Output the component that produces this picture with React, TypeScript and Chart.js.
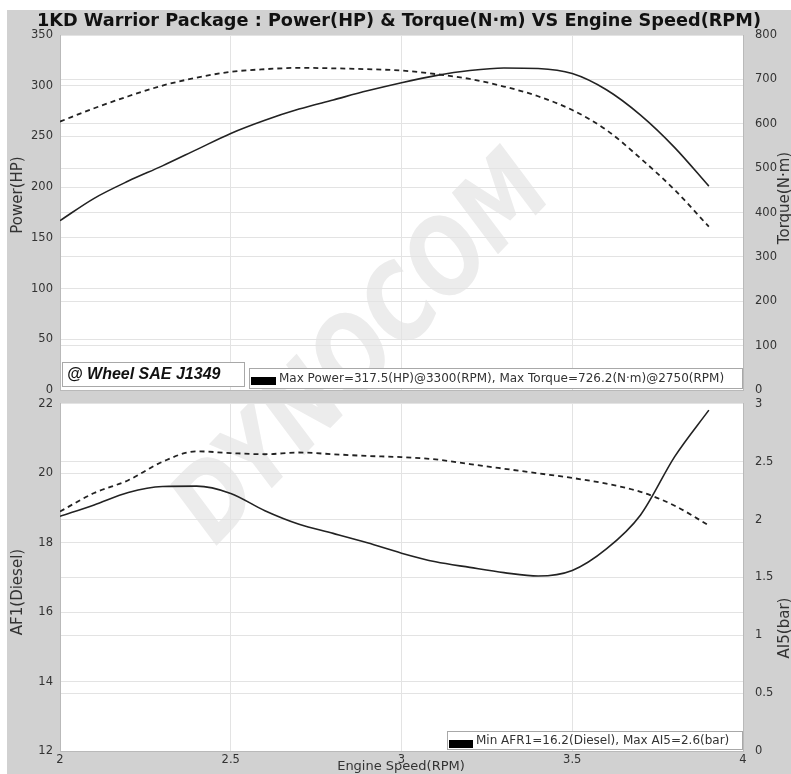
import React, { useEffect, useRef } from "react";
import { Chart, registerables } from "chart.js";

Chart.register(...registerables);

// ---------- data ----------
const RPM_K = [2.0, 2.1, 2.2, 2.3, 2.4, 2.5, 2.6, 2.7, 2.8, 2.9, 3.0, 3.1, 3.2, 3.3, 3.4, 3.5, 3.6, 3.7, 3.8, 3.9];
const POWER_HP = [167, 189, 206, 221, 237, 253, 266, 277, 286, 295, 303, 310, 315, 317.5, 317, 312, 296, 271, 239, 201];
const TORQUE_NM = [605, 635, 662, 686, 704, 717, 723, 726, 725, 723, 720, 712, 701, 684, 662, 631, 586, 522, 451, 368];
const AFR1_DIESEL = [18.76, 19.09, 19.45, 19.62, 19.63, 19.42, 18.92, 18.53, 18.27, 18.0, 17.7, 17.45, 17.29, 17.14, 17.04, 17.2, 17.82, 18.8, 20.48, 21.82];
const AI5_BAR = [2.07, 2.23, 2.34, 2.5, 2.59, 2.575, 2.565, 2.58, 2.565, 2.55, 2.54, 2.52, 2.48, 2.44, 2.4, 2.36, 2.31, 2.24, 2.12, 1.95];

const TITLE = "1KD Warrior Package : Power(HP) & Torque(N·m) VS Engine Speed(RPM)";
const BADGE = "@ Wheel SAE J1349";
const TOP_LEGEND = "Max Power=317.5(HP)@3300(RPM), Max Torque=726.2(N·m)@2750(RPM)";
const BOTTOM_LEGEND = "Min AFR1=16.2(Diesel), Max AI5=2.6(bar)";
const X_TITLE = "Engine Speed(RPM)";
const Y_TITLES_TOP = ["Power(HP)", "Torque(N·m)"];
const Y_TITLES_BOTTOM = ["AF1(Diesel)", "AI5(bar)"];
const WATERMARK = "DYNOCOM";

// ---------- styling ----------
const FONT = "'DejaVu Sans', Verdana, sans-serif";
const TICK_COLOR = "#333";
const GRID = "#e3e3e3";
const BORDER = "#b9b9b9";
const LINE = "#222";
const BG = "#d1d1d1";

const CONTAINER_X = 7;
const CONTAINER_Y = 10;
const W = 784;
const TOP_H = 400;
const BOT_TOP = 375; // relative to container
const BOT_H = 389;

type Deco = {
  ox: number;
  oy: number;
  yTitles: { text: string; x: number; y: number }[];
  xTitle?: { text: string; x: number; y: number };
  badge?: boolean;
  legend: { text: string; box: [number, number, number, number]; sw: [number, number, number, number]; tx: number; ty: number };
};

function makeDeco(d: Deco) {
  return {
    id: "deco",
    beforeDraw(chart: any) {
      const { ctx, chartArea: ca } = chart;
      ctx.save();
      ctx.fillStyle = "#ffffff";
      ctx.fillRect(ca.left, ca.top, ca.right - ca.left, ca.bottom - ca.top);
      ctx.beginPath();
      ctx.rect(ca.left, ca.top, ca.right - ca.left, ca.bottom - ca.top);
      ctx.clip();
      ctx.translate(366 - d.ox, 352 - d.oy);
      ctx.rotate((-46 * Math.PI) / 180);
      ctx.font = `italic bold 104px ${FONT}`;
      ctx.fillStyle = "#ececec";
      ctx.textAlign = "center";
      ctx.textBaseline = "middle";
      ctx.fillText(WATERMARK, 0, 0, 490);
      ctx.restore();
    },
    afterDraw(chart: any) {
      const { ctx } = chart;
      const P = (x: number, y: number) => [x - d.ox, y - d.oy];
      ctx.save();
      ctx.fillStyle = TICK_COLOR;
      ctx.textAlign = "center";
      ctx.textBaseline = "middle";
      ctx.font = `15px ${FONT}`;
      for (const t of d.yTitles) {
        const [x, y] = P(t.x, t.y);
        ctx.save();
        ctx.translate(x, y);
        ctx.rotate(-Math.PI / 2);
        ctx.fillText(t.text, 0, 0);
        ctx.restore();
      }
      if (d.xTitle) {
        ctx.font = `13px ${FONT}`;
        const [x, y] = P(d.xTitle.x, d.xTitle.y);
        ctx.fillText(d.xTitle.text, x, y);
      }
      if (d.badge) {
        const [bx, by] = P(62, 362);
        ctx.fillStyle = "#fff";
        ctx.fillRect(bx, by, 183, 25);
        ctx.strokeStyle = "#a8a8a8";
        ctx.lineWidth = 1;
        ctx.strokeRect(bx + 0.5, by + 0.5, 182, 24);
        ctx.fillStyle = "#111";
        ctx.font = `italic bold 16px 'Liberation Sans', Arial, sans-serif`;
        ctx.textAlign = "left";
        ctx.fillText(BADGE, bx + 5, by + 12.5);
      }
      const L = d.legend;
      const [lx, ly] = P(L.box[0], L.box[1]);
      ctx.fillStyle = "#fff";
      ctx.fillRect(lx, ly, L.box[2], L.box[3]);
      ctx.strokeStyle = "#a8a8a8";
      ctx.lineWidth = 1;
      ctx.strokeRect(lx + 0.5, ly + 0.5, L.box[2] - 1, L.box[3] - 1);
      const [sx, sy] = P(L.sw[0], L.sw[1]);
      ctx.fillStyle = "#000";
      ctx.fillRect(sx, sy, L.sw[2], L.sw[3]);
      const [tx, ty] = P(L.tx, L.ty);
      ctx.fillStyle = TICK_COLOR;
      ctx.font = `12px ${FONT}`;
      ctx.textAlign = "left";
      ctx.textBaseline = "middle";
      ctx.fillText(L.text, tx, ty);
      ctx.restore();
    },
  };
}

function points(ys: number[]) {
  return RPM_K.map((x, i) => ({ x, y: ys[i] }));
}

const fmt = (v: any) => String(Math.round(Number(v) * 100) / 100);

function yAxis(pos: "left" | "right", min: number, max: number, step: number, width: number, pad: number) {
  return {
    type: "linear",
    position: pos,
    min,
    max,
    ticks: { stepSize: step, color: TICK_COLOR, font: { family: FONT, size: 11.5 }, padding: pad, callback: fmt },
    grid: { color: GRID, drawTicks: false },
    border: { display: true, color: BORDER },
    afterFit: (s: any) => {
      s.width = width;
    },
  };
}

function xAxis(showLabels: boolean, height: number) {
  return {
    type: "linear",
    min: 2,
    max: 4,
    ticks: { display: showLabels, stepSize: 0.5, color: TICK_COLOR, font: { family: FONT, size: 11.5 }, padding: 2, maxRotation: 0, callback: fmt },
    grid: { color: GRID, drawTicks: false },
    border: { display: true, color: BORDER },
    afterFit: (s: any) => {
      s.height = height;
    },
  };
}

export default function App() {
  const topRef = useRef<HTMLCanvasElement>(null);
  const botRef = useRef<HTMLCanvasElement>(null);

  useEffect(() => {
    const common = {
      responsive: false,
      animation: false as const,
      events: [],
      elements: { point: { radius: 0 } },
    };

    const top = new Chart(topRef.current!, {
      type: "line",
      data: {
        datasets: [
          { label: "Power(HP)", data: points(POWER_HP), yAxisID: "yL", borderColor: LINE, borderWidth: 1.6, cubicInterpolationMode: "monotone", fill: false },
          { label: "Torque(N·m)", data: points(TORQUE_NM), yAxisID: "yR", borderColor: LINE, borderWidth: 1.8, borderDash: [5, 4], cubicInterpolationMode: "monotone", fill: false },
        ],
      },
      options: {
        ...common,
        layout: { padding: 0 },
        plugins: {
          legend: { display: false },
          tooltip: { enabled: false },
          title: {
            display: true,
            text: TITLE,
            color: "#111",
            font: { family: FONT, size: 17.7, weight: "bold" },
            padding: { top: 0.5, bottom: 3.3 },
          },
        },
        scales: {
          x: xAxis(false, TOP_H - 380),
          yL: yAxis("left", 0, 350, 50, 53, 7),
          yR: yAxis("right", 0, 800, 100, 48, 12),
        },
      } as any,
      plugins: [
        makeDeco({
          ox: CONTAINER_X,
          oy: CONTAINER_Y,
          yTitles: [
            { text: Y_TITLES_TOP[0], x: 18, y: 195 },
            { text: Y_TITLES_TOP[1], x: 785, y: 198 },
          ],
          badge: true,
          legend: { text: TOP_LEGEND, box: [249, 368, 494, 21], sw: [251, 377, 25, 8], tx: 279, ty: 378.5 },
        }) as any,
      ],
    });

    const bot = new Chart(botRef.current!, {
      type: "line",
      data: {
        datasets: [
          { label: "AF1(Diesel)", data: points(AFR1_DIESEL), yAxisID: "yL", borderColor: LINE, borderWidth: 1.6, cubicInterpolationMode: "monotone", fill: false },
          { label: "AI5(bar)", data: points(AI5_BAR), yAxisID: "yR", borderColor: LINE, borderWidth: 1.8, borderDash: [5, 4], cubicInterpolationMode: "monotone", fill: false },
        ],
      },
      options: {
        ...common,
        layout: { padding: { top: 12 } },
        plugins: { legend: { display: false }, tooltip: { enabled: false }, title: { display: false } },
        scales: {
          x: xAxis(true, 23),
          yL: yAxis("left", 12, 22, 2, 53, 7),
          yR: yAxis("right", 0, 3, 0.5, 48, 12),
        },
      } as any,
      plugins: [
        makeDeco({
          ox: CONTAINER_X,
          oy: CONTAINER_Y + BOT_TOP,
          yTitles: [
            { text: Y_TITLES_BOTTOM[0], x: 18, y: 592 },
            { text: Y_TITLES_BOTTOM[1], x: 785, y: 628 },
          ],
          xTitle: { text: X_TITLE, x: 401, y: 767 },
          legend: { text: BOTTOM_LEGEND, box: [447, 731, 296, 19], sw: [449, 740, 24, 8], tx: 476, ty: 740.5 },
        }) as any,
      ],
    });

    return () => {
      top.destroy();
      bot.destroy();
    };
  }, []);

  return (
    <div
      style={{
        position: "absolute",
        left: CONTAINER_X,
        top: CONTAINER_Y,
        width: W,
        height: 764,
        background: BG,
        overflow: "hidden",
      }}
    >
      <canvas ref={topRef} width={W} height={TOP_H} style={{ position: "absolute", left: 0, top: 0, width: W, height: TOP_H }} />
      <canvas ref={botRef} width={W} height={BOT_H} style={{ position: "absolute", left: 0, top: BOT_TOP, width: W, height: BOT_H }} />
    </div>
  );
}
